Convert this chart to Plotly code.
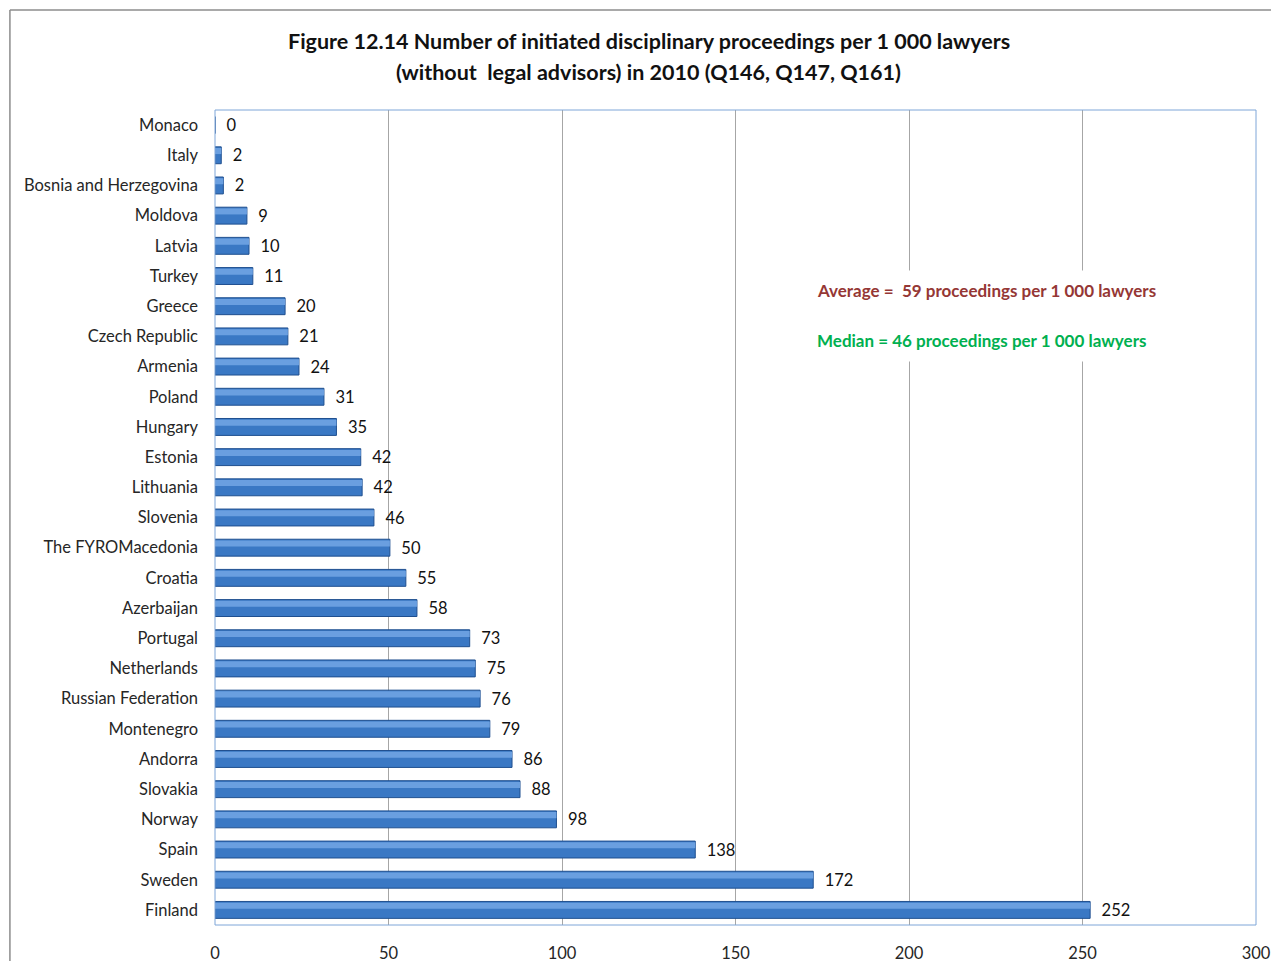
import plotly.graph_objects as go

countries = ['Monaco', 'Italy', 'Bosnia and Herzegovina', 'Moldova', 'Latvia', 'Turkey', 'Greece',
             'Czech Republic', 'Armenia', 'Poland', 'Hungary', 'Estonia', 'Lithuania', 'Slovenia',
             'The FYROMacedonia', 'Croatia', 'Azerbaijan', 'Portugal', 'Netherlands', 'Russian Federation',
             'Montenegro', 'Andorra', 'Slovakia', 'Norway', 'Spain', 'Sweden', 'Finland']
values = [0, 1.8, 2.4, 9.2, 9.8, 10.9, 20.2, 21.0, 24.2, 31.4, 35.0, 42.0, 42.4, 45.8,
          50.4, 55.0, 58.2, 73.4, 75.0, 76.4, 79.2, 85.6, 87.9, 98.4, 138.4, 172.4, 252.2]
x_ticks = [0, 50, 100, 150, 200, 250, 300]

title_lines = ['<b>Figure 12.14 Number of initiated disciplinary proceedings per 1 000 lawyers</b>',
               '<b>(without  legal advisors) in 2010 (Q146, Q147, Q161)</b>']
avg_text = '<b>Average =  59 proceedings per 1 000 lawyers</b>'
med_text = '<b>Median = 46 proceedings per 1 000 lawyers</b>'

font_family = 'Lato, Open Sans, sans-serif'

fig = go.Figure()
# main bar
fig.add_trace(go.Bar(
    y=countries, x=values, orientation='h', width=0.56,
    marker=dict(color='#3a78c4', line=dict(color='#1f4f8f', width=1)),
    texttemplate='  %{x:.0f}', textposition='outside', cliponaxis=False, constraintext='none',
    textfont=dict(size=16.5, color='#111111', family=font_family),
    hoverinfo='x+y', showlegend=False))
# highlight strip to fake the bevelled look
fig.add_trace(go.Bar(
    y=countries, x=values, orientation='h', width=0.2, offset=-0.24,
    marker=dict(color='#6a9fe0', line=dict(width=0)),
    hoverinfo='skip', showlegend=False))

# page body has an 8px margin, keep the figure inside the window so nothing scrolls
fig.update_layout(
    barmode='overlay',
    width=1263, height=953,
    margin=dict(l=207, r=15, t=102, b=36),
    paper_bgcolor='white', plot_bgcolor='white',
    font=dict(family=font_family, size=16, color='#262626'),
)
fig.update_xaxes(range=[0, 300], tickvals=x_ticks, showgrid=True, gridcolor='#a6a6a6', gridwidth=1,
                 zeroline=False, showline=False, ticks='', ticklabelstandoff=16, automargin=False,
                 tickfont=dict(size=16.5, color='#262626'))
fig.update_yaxes(categoryorder='array', categoryarray=countries, autorange='reversed',
                 showgrid=False, showline=False, ticks='', ticklabelstandoff=16, automargin=False,
                 tickfont=dict(size=16.5, color='#262626'))

# two-line title, placed line by line for the spacing
for txt, yy in zip(title_lines, [1.0847, 1.0466]):
    fig.add_annotation(xref='paper', yref='paper', x=0.4169, y=yy, xanchor='center', yanchor='middle',
                       text=txt, showarrow=False, font=dict(size=21.5, color='#111111'))

# plot area frame
fig.add_shape(type='rect', xref='paper', yref='paper', x0=0, y0=0, x1=1, y1=1,
              line=dict(color='#7ea6d8', width=1), layer='above')
# outer chart border (top and left edges visible)
fig.add_shape(type='line', xref='paper', yref='paper', x0=-0.197, y0=-0.1, x1=-0.197, y1=1.1227,
              line=dict(color='#8c8c8c', width=1.5))
fig.add_shape(type='line', xref='paper', yref='paper', x0=-0.197, y0=1.1227, x1=1.05, y1=1.1227,
              line=dict(color='#8c8c8c', width=1.5))

# white box behind the notes, hides the gridlines
fig.add_annotation(xref='paper', yref='paper', x=0.742, y=0.747, xanchor='center', yanchor='middle',
                   text=' ', showarrow=False, width=372, height=90, bgcolor='white', borderpad=0)
fig.add_annotation(xref='paper', yref='paper', x=0.576, y=0.779, xanchor='left', yanchor='middle',
                   text=avg_text, showarrow=False, font=dict(size=17, color='#953735'))
fig.add_annotation(xref='paper', yref='paper', x=0.576, y=0.717, xanchor='left', yanchor='middle',
                   text=med_text, showarrow=False, font=dict(size=17, color='#00b050'))

fig.write_html('out.html')
